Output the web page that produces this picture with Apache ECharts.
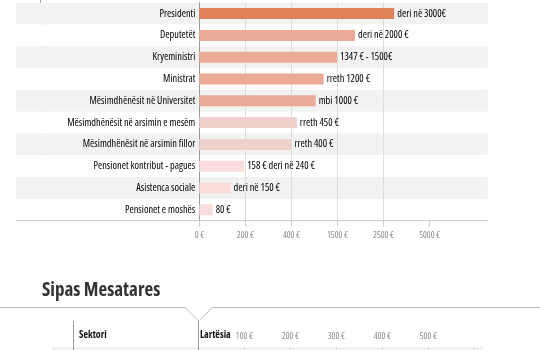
<!DOCTYPE html>
<html>
<head>
<meta charset="utf-8">
<script src="https://cdn.jsdelivr.net/npm/echarts@6/dist/echarts.min.js"></script>
<style>html,body{margin:0;padding:0;background:#fff;}#c{width:540px;height:350px;}</style>
</head>
<body>
<div id="c"></div>
<script>
// ---- data ----
var categories = ['Presidenti','Deputetët','Kryeministri','Ministrat','Mësimdhënësit në Universitet','Mësimdhënësit në arsimin e mesëm','Mësimdhënësit në arsimin fillor','Pensionet kontribut - pagues','Asistenca sociale','Pensionet e moshës'];
var salaryTop = [3080, 1880, 1490, 1170, 980, 530, 400, 195, 136, 58];
var salaryRangeStart = [0, 0, 0, 0, 0, 0, 0, 138, 0, 0];
var valueLabels = ['deri në 3000€','deri në 2000 €','1347 € - 1500€','rreth 1200 €','mbi 1000 €','rreth 450 €','rreth 400 €','158 € deri në 240 €','deri në 150 €','80 €'];
var axisTickValues = [0, 200, 400, 1500, 2500, 5000];
var axisTickLabels = ['0 €','200 €','400 €','1500 €','2500 €','5000 €'];
var bottomTickValues = [100, 200, 300, 400, 500];
var bottomTickLabels = ['100 €','200 €','300 €','400 €','500 €'];

// ---- styles ----
var barColors = ['#E0825A','#EBAA95','#EBAA95','#EBAA95','#EBAA95','#EFD0CB','#EFD0CB','#FADCDA','#FADCDA','#FADCDA'];
var FONT = "'Open Sans','Roboto',sans-serif";
var STRETCH = 'condensed';

// piecewise-linear scale: euro value -> tick index position
function toAxis(v) {
  var t = axisTickValues;
  for (var i = 0; i < t.length - 1; i++) {
    if (v <= t[i + 1]) return i + (v - t[i]) / (t[i + 1] - t[i]);
  }
  var n = t.length - 1;
  return n + (v - t[n]) / (t[n] - t[n - 1]);
}

var baseData = salaryTop.map(function (v, i) { return toAxis(salaryRangeStart[i] || v); });
var extData = salaryTop.map(function (v, i) { return salaryRangeStart[i] ? toAxis(v) - toAxis(salaryRangeStart[i]) : 0; });

var chart = echarts.init(document.getElementById('c'), null, {renderer: 'canvas'});
var option = {
  animation: false,
  backgroundColor: '#fff',
  textStyle: {fontFamily: FONT, fontStyle: STRETCH},
  title: {
    text: 'Sipas Mesatares', left: 37, top: 276,
    textStyle: {fontFamily: FONT, fontStyle: STRETCH, fontSize: 19, fontWeight: 'bold', color: '#333'}
  },
  grid: [
    {left: 16, right: 52.3, top: 2.7, bottom: 129.3},
    {left: 199.3, right: 52.3, top: 2.7, bottom: 129.3},
    {left: 198.3, right: 57, top: 347, bottom: 0}
  ],
  xAxis: [
    {gridIndex: 0, type: 'value', min: 0, max: 1, axisLine: {show: true, onZero: false, lineStyle: {color: '#cccccc'}},
      axisTick: {show: false}, axisLabel: {show: false}, splitLine: {show: false}},
    {gridIndex: 1, type: 'value', min: 0, max: 6.263, interval: 1,
      axisLine: {show: false},
      axisTick: {show: true, length: 6, customValues: [0,1,2,3,4,5], lineStyle: {color: '#cccccc'}},
      axisLabel: {show: true, margin: 10, fontSize: 9, color: '#888', fontFamily: FONT, fontStyle: STRETCH, customValues: [0,1,2,3,4,5],
        formatter: function (v) { var k = Math.round(v); return axisTickLabels[k] || ''; }},
      splitLine: {show: true, showMinLine: false, showMaxLine: false, lineStyle: {color: '#dddddd'}}},
    {gridIndex: 2, type: 'value', position: 'top', min: 0, max: 619, interval: 100,
      axisLine: {show: false}, axisTick: {show: false},
      axisLabel: {show: true, margin: 6, fontSize: 9, color: '#888', fontFamily: FONT, fontStyle: STRETCH, customValues: bottomTickValues,
        formatter: function (v) { var k = bottomTickValues.indexOf(Math.round(v)); return k >= 0 ? bottomTickLabels[k] : ''; }},
      splitLine: {show: true, showMinLine: false, showMaxLine: false, lineStyle: {color: '#dddddd'}}}
  ],
  yAxis: [
    {gridIndex: 0, type: 'category', inverse: true, data: categories, axisLine: {show: false}, axisTick: {show: false},
      axisLabel: {show: false}, splitArea: {show: true, areaStyle: {color: ['#f2f2f2', '#ffffff']}}, splitLine: {show: false}},
    {gridIndex: 1, type: 'category', inverse: true, data: categories,
      axisLine: {show: true, lineStyle: {color: '#999999'}}, axisTick: {show: false},
      axisLabel: {margin: 4, fontSize: 10.3, color: '#000', fontFamily: FONT, fontStyle: STRETCH}},
    {gridIndex: 2, type: 'value', show: false}
  ],
  series: [
    {type: 'bar', xAxisIndex: 1, yAxisIndex: 1, stack: 'pay', barWidth: 11, data: baseData,
      itemStyle: {color: function (p) { return barColors[p.dataIndex]; }}},
    {type: 'bar', xAxisIndex: 1, yAxisIndex: 1, stack: 'pay', barWidth: 11, data: extData,
      itemStyle: {color: function (p) { return barColors[p.dataIndex]; }},
      label: {show: true, position: 'right', distance: 3, fontSize: 10.3, color: '#000', fontFamily: FONT, fontStyle: STRETCH,
        formatter: function (p) { return valueLabels[p.dataIndex]; }}}
  ],
  graphic: [
    {type: 'line', shape: {x1: 40.5, y1: 0, x2: 40.5, y2: 220.7}, style: {stroke: '#999', lineWidth: 1}, silent: true},
    {type: 'polyline', shape: {points: [[0, 307.5], [185, 307.5], [198.5, 321], [212.5, 307.5], [540, 307.5]]},
      style: {stroke: '#bbbbbb', lineWidth: 1, fill: null}, silent: true},
    {type: 'line', shape: {x1: 73.5, y1: 321, x2: 73.5, y2: 350}, style: {stroke: '#999', lineWidth: 1}, silent: true},
    {type: 'line', shape: {x1: 198.5, y1: 321, x2: 198.5, y2: 350}, style: {stroke: '#999', lineWidth: 1}, silent: true},
    {type: 'rect', z: -10, shape: {x: 52, y: 347, width: 431, height: 3}, style: {fill: '#f2f2f2'}, silent: true},
    {type: 'text', left: 79, top: 330, style: {text: 'Sektori', fontFamily: FONT, fontStyle: STRETCH, fontWeight: 'bold', fontSize: 10, fill: '#111'}},
    {type: 'text', left: 200, top: 330, style: {text: 'Lartësia', fontFamily: FONT, fontStyle: STRETCH, fontWeight: 'bold', fontSize: 10, fill: '#111'}}
  ]
};
chart.setOption(option);
</script>
</body>
</html>
